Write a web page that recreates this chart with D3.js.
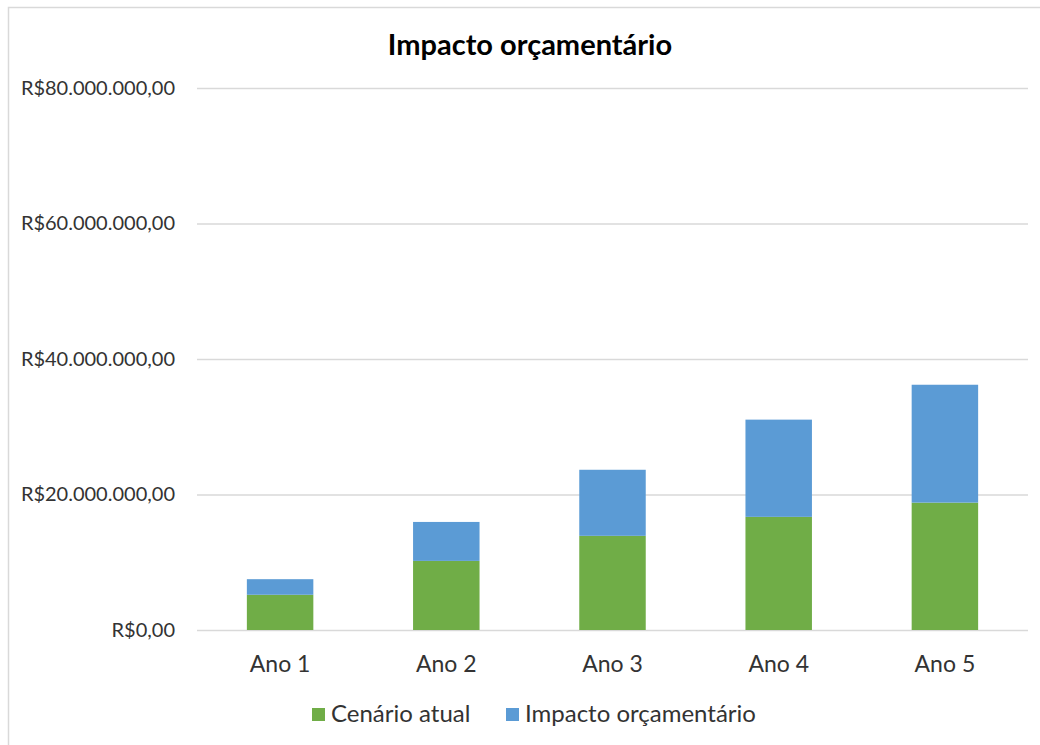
<!DOCTYPE html>
<html><head><meta charset="utf-8">
<script src="https://cdn.jsdelivr.net/npm/d3@7"></script>
<style>body{margin:0;background:#fff;} svg{display:block;font-family:Lato, "Open Sans", sans-serif;} svg text{font-family:Lato, "Open Sans", sans-serif;}</style>
</head><body>
<svg id="c" width="1040" height="745"></svg>
<script>
const categories = ["Ano 1","Ano 2","Ano 3","Ano 4","Ano 5"];
const cenarioAtual = [5200000, 10200000, 13900000, 16700000, 18800000];
const impacto = [2300000, 5750000, 9750000, 14350000, 17400000];
const seriesNames = ["Cenário atual","Impacto orçamentário"];
const yTicks = [0, 20000000, 40000000, 60000000, 80000000];
const colors = ["#70ad47","#5b9bd5"];

const svg = d3.select("#c");
const W=1040,H=745;
svg.append("rect").attr("x",0).attr("y",0).attr("width",W).attr("height",H).attr("fill","#fff");
svg.append("path").attr("d","M8.5,745 V7.5 H1040").attr("fill","none").attr("stroke","#d9d9d9").attr("stroke-width",1.5);

const m={l:197,r:1028,t:88,b:630};
const x=d3.scaleBand().domain(categories).range([m.l,m.r]).paddingInner(0.6).paddingOuter(0.3);
const y=d3.scaleLinear().domain([0,80000000]).range([m.b,m.t]);

const fmt = v => "R$" + d3.format(",.2f")(v).replace(/,/g,"X").replace(/\./g,",").replace(/X/g,".");

const ga=svg.append("g").attr("transform",`translate(${m.l},0)`)
 .call(d3.axisLeft(y).tickValues(yTicks).tickSize(-(m.r-m.l)).tickPadding(22).tickFormat(fmt));
ga.attr("font-family",null);
ga.select(".domain").remove();
ga.selectAll(".tick line").attr("stroke","#d9d9d9").attr("stroke-width",1.5);
ga.selectAll(".tick text").attr("fill","#333").style("font-size","20px");

const data = categories.map((c,i)=>({cat:c, a:cenarioAtual[i], b:impacto[i]}));
const stack=d3.stack().keys(["a","b"])(data);
svg.append("g").selectAll("g").data(stack).join("g").attr("fill",(d,i)=>colors[i])
 .selectAll("rect").data(d=>d).join("rect")
 .attr("x",d=>x(d.data.cat)).attr("width",x.bandwidth())
 .attr("y",d=>y(d[1])).attr("height",d=>y(d[0])-y(d[1]));

const gx=svg.append("g").attr("transform",`translate(0,${m.b})`).call(d3.axisBottom(x).tickSize(0).tickPadding(26));
gx.attr("font-family",null);
gx.select(".domain").remove();
gx.selectAll(".tick text").attr("fill","#333").style("font-size","23px");

svg.append("text").attr("x",530).attr("y",55).attr("text-anchor","middle").attr("font-weight","bold")
 .style("font-size","29px").attr("fill","#000").text("Impacto orçamentário");

const leg=[{x:312,t:seriesNames[0],c:colors[0]},{x:506,t:seriesNames[1],c:colors[1]}];
const lg=svg.append("g");
leg.forEach(l=>{
 lg.append("rect").attr("x",l.x).attr("y",708).attr("width",13).attr("height",13).attr("fill",l.c);
 lg.append("text").attr("x",l.x+19).attr("y",722).attr("fill","#333").style("font-size","24px").text(l.t);
});
</script>
</body></html>
